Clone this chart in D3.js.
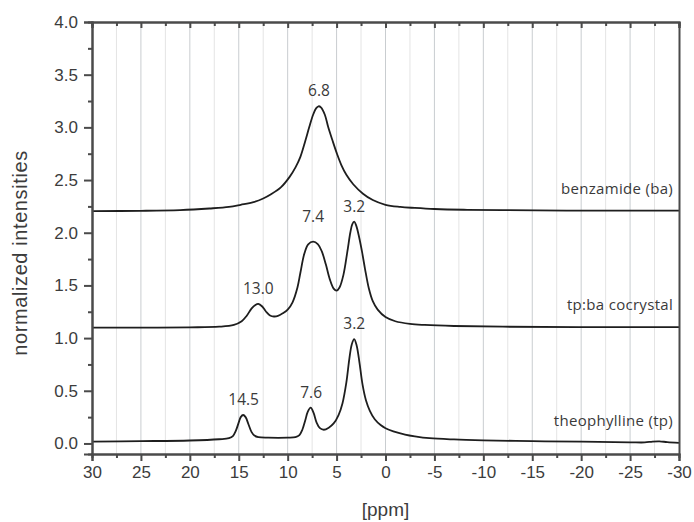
<!DOCTYPE html>
<html>
<head>
<meta charset="utf-8">
<script src="https://cdn.jsdelivr.net/npm/d3@7"></script>
<style>
  html, body { margin: 0; padding: 0; background: #fff; }
  svg { display: block; }
  .tick text { font-family: "Liberation Sans", Arial, sans-serif; fill: #3c3c3c; }
</style>
</head>
<body>
<svg id="chart" width="694" height="522"></svg>
<script>
// Chemical shift axis (ppm) and intensity ticks
const xMajorTicks = [30, 25, 20, 15, 10, 5, 0, -5, -10, -15, -20, -25, -30];
const xMinorTicks = [27.5, 22.5, 17.5, 12.5, 7.5, 2.5, -2.5, -7.5, -12.5, -17.5, -22.5, -27.5];
const yMajorTicks = [0.0, 0.5, 1.0, 1.5, 2.0, 2.5, 3.0, 3.5, 4.0];
const yMinorTicks = [0.25, 0.75, 1.25, 1.75, 2.25, 2.75, 3.25, 3.75];

// Spectrum names
const seriesNames = ["benzamide (ba)", "tp:ba cocrystal", "theophylline (tp)"];

// benzamide (ba): ppm / normalized intensity (offset by +2.2)
const baPpm = [30, 25, 21, 18, 16, 14.8, 13.5, 12.5, 11.7, 10.7, 9.8, 9.2, 8.7, 8.2, 7.8, 7.4, 7.1, 6.85, 6.6, 6.2, 5.85, 5.4, 5.0, 4.5, 4.0, 3.3, 2.3, 1.3, 0, -1.5, -3, -5, -8, -12, -20, -30];
const baInt = [2.205, 2.208, 2.215, 2.23, 2.245, 2.265, 2.29, 2.325, 2.365, 2.43, 2.53, 2.62, 2.72, 2.87, 3.0, 3.12, 3.18, 3.2, 3.19, 3.12, 3.0, 2.87, 2.76, 2.64, 2.55, 2.46, 2.37, 2.31, 2.265, 2.245, 2.235, 2.225, 2.218, 2.215, 2.21, 2.21];

// tp:ba cocrystal (offset by +1.1)
const coPpm = [30, 25, 20, 17, 15.5, 14.7, 14.2, 13.7, 13.3, 13.0, 12.6, 12.2, 11.8, 11.4, 11.0, 10.5, 10.0, 9.5, 9.0, 8.7, 8.3, 7.9, 7.4, 6.9, 6.5, 6.1, 5.7, 5.3, 5.0, 4.7, 4.3, 3.9, 3.6, 3.4, 3.2, 3.0, 2.7, 2.4, 2.1, 1.7, 1.3, 0.8, 0, -1, -2.5, -4, -7, -12, -20, -30];
const coInt = [1.1, 1.1, 1.102, 1.108, 1.125, 1.16, 1.21, 1.28, 1.315, 1.325, 1.3, 1.25, 1.215, 1.205, 1.21, 1.235, 1.27, 1.34, 1.48, 1.62, 1.8, 1.89, 1.915, 1.89, 1.82, 1.7, 1.56, 1.47, 1.45, 1.48, 1.6, 1.82, 2.0, 2.08, 2.105, 2.07, 1.96, 1.82, 1.66, 1.47, 1.35, 1.27, 1.2, 1.16, 1.135, 1.125, 1.115, 1.108, 1.105, 1.105];

// theophylline (tp)
const tpPpm = [30, 25, 20, 17, 16, 15.6, 15.3, 15.0, 14.8, 14.55, 14.3, 14.0, 13.7, 13.4, 13.0, 12, 10, 9.2, 8.8, 8.5, 8.2, 7.95, 7.65, 7.35, 7.05, 6.7, 6.3, 5.8, 5.3, 4.8, 4.4, 4.0, 3.7, 3.45, 3.2, 2.95, 2.65, 2.35, 2.0, 1.6, 1.1, 0.5, 0, -0.8, -2, -3, -4.5, -7, -10, -15, -20, -25, -26.5, -27.3, -28, -28.8, -30];
const tpInt = [0.018, 0.022, 0.028, 0.04, 0.05, 0.07, 0.12, 0.2, 0.25, 0.27, 0.25, 0.18, 0.11, 0.075, 0.06, 0.055, 0.055, 0.06, 0.08, 0.13, 0.22, 0.3, 0.34, 0.29, 0.2, 0.145, 0.13, 0.15, 0.19, 0.27, 0.38, 0.58, 0.8, 0.94, 0.99, 0.93, 0.76, 0.56, 0.41, 0.31, 0.23, 0.175, 0.145, 0.115, 0.085, 0.068, 0.05, 0.038, 0.03, 0.022, 0.017, 0.011, 0.01, 0.018, 0.02, 0.013, 0.006];

// Peak annotations: which spectrum, peak position (ppm)
const peakSeries = [0, 1, 1, 1, 2, 2, 2];
const peakPpm = [6.8, 13.0, 7.4, 3.2, 14.5, 7.6, 3.2];
const peakText = ["6.8", "13.0", "7.4", "3.2", "14.5", "7.6", "3.2"];

const spectra = [
  { name: seriesNames[0], ppm: baPpm, val: baInt },
  { name: seriesNames[1], ppm: coPpm, val: coInt },
  { name: seriesNames[2], ppm: tpPpm, val: tpInt }
];

const svg = d3.select("#chart");
const margin = { left: 92, right: 15, top: 22, bottom: 68 };
const W = 694, H = 522;

const x = d3.scaleLinear().domain([30, -30]).range([margin.left, W - margin.right]);
const y = d3.scaleLinear().domain([-0.1, 4.0]).range([H - margin.bottom, margin.top]);

// vertical grid lines
svg.append("g").selectAll("line").data(xMinorTicks).join("line")
  .attr("x1", d => x(d)).attr("x2", d => x(d))
  .attr("y1", y.range()[0]).attr("y2", y.range()[1])
  .attr("stroke", "#e4e4e4").attr("stroke-width", 1);
svg.append("g").selectAll("line").data(xMajorTicks.slice(1, -1)).join("line")
  .attr("x1", d => x(d)).attr("x2", d => x(d))
  .attr("y1", y.range()[0]).attr("y2", y.range()[1])
  .attr("stroke", "#c9cdd0").attr("stroke-width", 1);

// spectra
const line = d3.line()
  .x(d => x(d[0]))
  .y(d => y(d[1]))
  .curve(d3.curveCatmullRom.alpha(0.5));

spectra.forEach(s => {
  const pts = s.ppm.map((p, i) => [p, s.val[i]]);
  svg.append("path")
    .datum(pts)
    .attr("d", line)
    .attr("fill", "none")
    .attr("stroke", "#1e1e1e")
    .attr("stroke-width", 1.8)
    .attr("stroke-linejoin", "round");
});

// local maximum of a spectrum near a given ppm, used to place annotations
function peakTop(s, p) {
  let best = -Infinity;
  s.ppm.forEach((q, k) => { if (Math.abs(q - p) < 0.5) best = Math.max(best, s.val[k]); });
  return best;
}

// peak annotations
const labelLift = { "7.4": 10 };
svg.append("g").selectAll("text").data(peakPpm).join("text")
  .attr("x", d => x(d))
  .attr("y", (d, i) => y(peakTop(spectra[peakSeries[i]], d)) - 10 - (labelLift[peakText[i]] || 0))
  .attr("text-anchor", "middle")
  .attr("font-family", "'Open Sans', sans-serif")
  .attr("font-size", 15.5)
  .attr("fill", "#3a3a3a")
  .text((d, i) => peakText[i]);

// spectrum names at right end
svg.append("g").selectAll("text").data(spectra).join("text")
  .attr("x", x(-30) - 6)
  .attr("y", d => y(d.val[d.val.length - 1]) - 17)
  .attr("text-anchor", "end")
  .attr("font-family", "'Open Sans', sans-serif")
  .attr("font-size", 15)
  .attr("letter-spacing", 0.3)
  .attr("fill", "#3a3a3a")
  .text(d => d.name);

// axes
const frame = "#4a4a4a";
const fmtY = d3.format(".1f");
const fmtX = d => String(d);

const gx = svg.append("g").attr("transform", `translate(0,${y.range()[0]})`);
gx.call(d3.axisBottom(x).tickValues(xMajorTicks).tickSize(7).tickPadding(5).tickFormat(fmtX));
const gxm = svg.append("g").attr("transform", `translate(0,${y.range()[0]})`);
gxm.call(d3.axisBottom(x).tickValues(xMinorTicks).tickSize(4).tickFormat(""));

const gt = svg.append("g").attr("transform", `translate(0,${y.range()[1]})`);
gt.call(d3.axisBottom(x).tickValues(xMajorTicks).tickSize(6).tickFormat(""));
const gtm = svg.append("g").attr("transform", `translate(0,${y.range()[1]})`);
gtm.call(d3.axisBottom(x).tickValues(xMinorTicks).tickSize(4).tickFormat(""));

const gy = svg.append("g").attr("transform", `translate(${x.range()[0]},0)`);
gy.call(d3.axisLeft(y).tickValues(yMajorTicks).tickSize(8).tickPadding(6).tickFormat(fmtY));
const gym = svg.append("g").attr("transform", `translate(${x.range()[0]},0)`);
gym.call(d3.axisLeft(y).tickValues(yMinorTicks).tickSize(4).tickFormat(""));

const gr = svg.append("g").attr("transform", `translate(${x.range()[1]},0)`);
gr.call(d3.axisRight(y).tickValues([]).tickSize(0));

[gx, gxm, gt, gtm, gy, gym, gr].forEach(g => {
  g.selectAll(".domain").attr("stroke", frame).attr("stroke-width", 2);
  g.selectAll(".tick line").attr("stroke", frame).attr("stroke-width", 2);
});
[gx, gy].forEach(g => g.selectAll(".tick text").attr("font-size", 17).attr("fill", "#3c3c3c"));

// axis titles
svg.append("text")
  .attr("x", (x.range()[0] + x.range()[1]) / 2)
  .attr("y", 516)
  .attr("text-anchor", "middle")
  .attr("font-family", "'Liberation Sans', Arial, sans-serif")
  .attr("font-size", 19)
  .attr("fill", "#3c3c3c")
  .text("[ppm]");

svg.append("text")
  .attr("transform", "translate(27,253) rotate(-90)")
  .attr("text-anchor", "middle")
  .attr("font-family", "'Liberation Sans', Arial, sans-serif")
  .attr("font-size", 20)
  .attr("letter-spacing", 0.6)
  .attr("fill", "#3c3c3c")
  .text("normalized intensities");
</script>
</body>
</html>
